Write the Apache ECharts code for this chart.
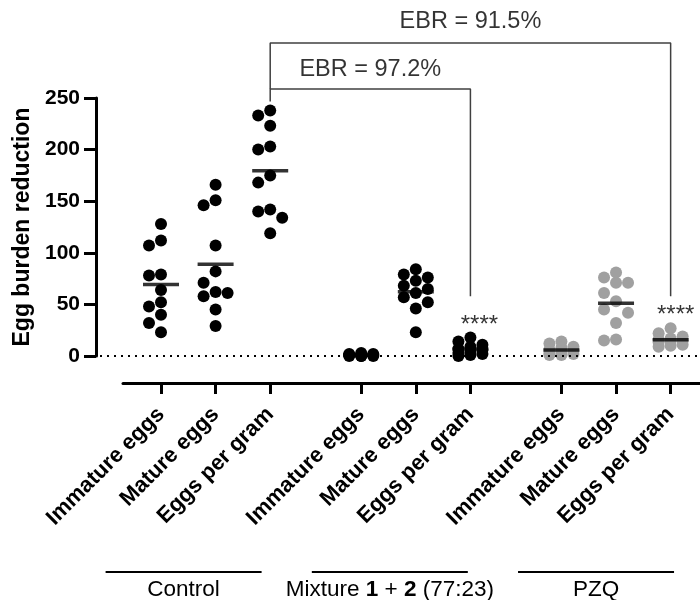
<!DOCTYPE html>
<html>
<head>
<meta charset="utf-8">
<script src="https://cdn.jsdelivr.net/npm/echarts@6/dist/echarts.min.js"></script>
<style>
html,body{margin:0;padding:0;background:#fff}
#main{width:700px;height:600px}
</style>
</head>
<body>
<div id="main"></div>
<script>
// --- data ---
var groups = ['Control', 'Mixture', 'PZQ'];
var measures = ['Immature eggs', 'Mature eggs', 'Eggs per gram'];
var yTicks = [0, 50, 100, 150, 200, 250];

var ctrlImmature = [128, 112, 107, 79, 78, 64, 52, 48, 40, 32, 23];
var ctrlMature   = [166, 151, 146, 107, 82, 71, 62, 61, 58, 45, 29];
var ctrlEpg      = [238, 233, 223, 203, 200, 175, 168, 142, 140, 134, 119];
var mixImmature  = [3, 2, 2, 1, 1, 1, 1, 0, 0, 0, 0];
var mixMature    = [84, 79, 76, 73, 68, 65, 61, 57, 52, 46, 23];
var mixEpg       = [18, 14, 11, 9, 7, 6, 4, 3, 2, 1, 0];
var pzqImmature  = [14, 12, 9, 8, 6, 5, 4, 3, 2, 1, 1];
var pzqMature    = [81, 76, 71, 71, 61, 53, 45, 42, 32, 16, 15];
var pzqEpg       = [27, 22, 19, 17, 16, 15, 14, 13, 11, 10, 9];

var ebrTexts = ['EBR = 97.2%', 'EBR = 91.5%'];
var starText = '****';

// --- layout ---
var FONT = 'Liberation Sans, Arial, sans-serif';
var PX_UNIT = 54.6;       // px per category step
var FIRST_PX = 161;       // px of first category
var GROUP_STEP = 3.667;
var Y_PX_UNIT = 258 / 250;
var colors = ['#000', '#000', '#a0a0a0'];

var columns = [
  [ctrlImmature, ctrlMature, ctrlEpg],
  [mixImmature, mixMature, mixEpg],
  [pzqImmature, pzqMature, pzqEpg]
];

function pos(g, i) { return g * GROUP_STEP + i; }

var tickPos = [];
for (var g = 0; g < 3; g++) for (var i = 0; i < 3; i++) tickPos.push(pos(g, i));

var min1 = -(FIRST_PX - 100) / PX_UNIT;
var max1 = min1 + 600 / PX_UNIT;
var min2 = -(FIRST_PX - 123) / PX_UNIT;

// simple beeswarm: three columns, overlap allowed near zero
function swarm(vals) {
  var order = vals.map(function (v, k) { return k; }).sort(function (a, b) { return vals[b] - vals[a]; });
  var placed = [], offs = new Array(vals.length);
  var cand = [0, -12, 12];
  order.forEach(function (k) {
    var py = vals[k] * Y_PX_UNIT;
    var best = 0, bestD = -1;
    for (var c = 0; c < cand.length; c++) {
      var d = 1e9;
      placed.forEach(function (p) {
        d = Math.min(d, Math.hypot(p[0] - cand[c], p[1] - py));
      });
      if (d >= 11.5) { best = cand[c]; bestD = d; break; }
      if (d > bestD) { bestD = d; best = cand[c]; }
    }
    offs[k] = best;
    placed.push([best, py]);
  });
  return offs;
}

var series = [];
columns.forEach(function (grp, g) {
  grp.forEach(function (vals, i) {
    var x = pos(g, i);
    var offs = swarm(vals);
    series.push({
      type: 'scatter', xAxisIndex: 0, yAxisIndex: 0,
      symbolSize: 12, itemStyle: { color: colors[g], opacity: 1 },
      z: 2, clip: false, silent: true,
      data: vals.map(function (v, k) { return [x + offs[k] / PX_UNIT, v]; })
    });
    var mean = vals.reduce(function (a, b) { return a + b; }, 0) / vals.length;
    series.push({
      type: 'scatter', xAxisIndex: 0, yAxisIndex: 0,
      symbol: 'rect', symbolSize: [36, 3.5], itemStyle: { color: '#000' },
      z: 3, clip: false, silent: true,
      data: [[x, mean]]
    });
  });
});

// dotted zero line
series.push({
  type: 'line', xAxisIndex: 0, yAxisIndex: 0, data: [], silent: true,
  markLine: {
    symbol: 'none', silent: true, label: { show: false },
    lineStyle: { color: '#000', width: 2, type: [2, 5] },
    data: [{ yAxis: 0 }]
  }
});

// EBR brackets
var bStyle = { color: '#404040', width: 1.5 };
series.push({
  type: 'line', xAxisIndex: 0, yAxisIndex: 0, clip: false, silent: true,
  showSymbol: false, symbol: 'none', lineStyle: bStyle, z: 1,
  data: [[pos(0, 2), 246.6], [pos(0, 2), 258.7], [pos(1, 2), 258.7], [pos(1, 2), 58]]
});
series.push({
  type: 'line', xAxisIndex: 0, yAxisIndex: 0, clip: false, silent: true,
  showSymbol: false, symbol: 'none', lineStyle: bStyle, z: 1,
  data: [[pos(0, 2), 258.7], [pos(0, 2), 303.3], [pos(2, 2), 303.3], [pos(2, 2), 58]]
});

function textMark(x, y, txt, size, dx) {
  return {
    type: 'scatter', xAxisIndex: 0, yAxisIndex: 0, clip: false, silent: true,
    symbolSize: 2, itemStyle: { color: 'rgba(0,0,0,0)' }, z: 4,
    label: {
      show: true, position: 'inside', offset: [dx || 0, 0],
      formatter: txt, fontSize: size, color: '#000', fontFamily: FONT
    },
    data: [[x, y]]
  };
}
series.push(textMark((pos(0, 2) + pos(1, 2)) / 2, 277.4, ebrTexts[0], 23.5));
series.push(textMark((pos(0, 2) + pos(2, 2)) / 2, 324, ebrTexts[1], 23.5));
series.push(textMark(pos(1, 2), 30, starText, 24, 9));
series.push(textMark(pos(2, 2), 39, starText, 24, 5));

var option = {
  animation: false,
  backgroundColor: '#fff',
  textStyle: { fontFamily: FONT },
  grid: [
    { left: 100, right: 0, top: 98, bottom: 244, outerBoundsMode: 'none' },
    { left: 123, right: 0, top: 382, height: 1, outerBoundsMode: 'none' }
  ],
  xAxis: [
    { gridIndex: 0, type: 'value', min: min1, max: max1, show: false },
    {
      gridIndex: 1, type: 'value', min: min2, max: max1, position: 'bottom',
      axisLine: { show: true, onZero: false, lineStyle: { color: '#000', width: 3 } },
      axisTick: { show: true, customValues: tickPos, length: 11, lineStyle: { color: '#000', width: 3 } },
      axisLabel: {
        customValues: tickPos, rotate: 45, margin: 28,
        fontSize: 22, fontWeight: 'bold', color: '#000', fontFamily: FONT,
        formatter: function (v) {
          for (var k = 0; k < tickPos.length; k++) {
            if (Math.abs(tickPos[k] - v) < 0.01) return measures[k % 3];
          }
          return '';
        }
      },
      splitLine: { show: false }
    }
  ],
  yAxis: [
    {
      gridIndex: 0, type: 'value', min: yTicks[0], max: yTicks[yTicks.length - 1], interval: 50,
      position: 'left', offset: 4,
      axisLine: { show: true, onZero: false, lineStyle: { color: '#000', width: 3 } },
      axisTick: { show: true, length: 12, lineStyle: { color: '#000', width: 3 } },
      axisLabel: { fontSize: 21, fontWeight: 'bold', color: '#000', margin: 16, fontFamily: FONT },
      splitLine: { show: false },
      name: 'Egg burden reduction', nameLocation: 'middle', nameGap: 60,
      nameTextStyle: { fontSize: 23, fontWeight: 'bold', color: '#000', fontFamily: FONT }
    },
    { gridIndex: 1, type: 'value', show: false }
  ],
  series: series
};

var chart = echarts.init(document.getElementById('main'), null, { renderer: 'canvas' });
chart.setOption(option);

// group labels under the rotated tick labels
var groupTexts = [
  { text: 'Control' },
  { text: 'Mixture {b|1} + {b|2} (77:23)' },
  { text: 'PZQ' }
];
var graphics = [];
groupTexts.forEach(function (gt, g) {
  var cx = chart.convertToPixel({ xAxisIndex: 1 }, pos(g, 1)) - 32 + 6 * g;
  graphics.push({
    type: 'line', silent: true,
    shape: { x1: cx - 78, y1: 572, x2: cx + 78, y2: 572 },
    style: { stroke: '#000', lineWidth: 2 }
  });
  graphics.push({
    type: 'text', silent: true, x: cx, y: 590,
    style: {
      text: gt.text, fill: '#000', font: '22.5px ' + FONT,
      align: 'center', verticalAlign: 'middle',
      rich: { b: { fontWeight: 'bold', fontSize: 22.5, fontFamily: FONT } }
    }
  });
});
chart.setOption({ graphic: graphics });
</script>
</body>
</html>
